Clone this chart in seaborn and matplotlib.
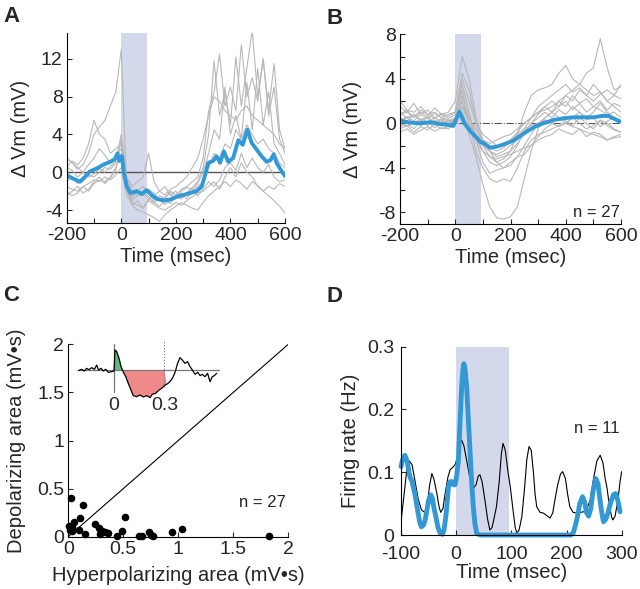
import numpy as np
import pandas as pd
import matplotlib
matplotlib.use('Agg')
import matplotlib.pyplot as plt
import seaborn as sns

sns.set_style('ticks')
plt.rcParams['font.family'] = ['Liberation Sans', 'DejaVu Sans']
plt.rcParams['axes.unicode_minus'] = False

GRAY = '#b8b8b8'
BLUE = '#3399d6'
SHADE = '#d3d8ea'
TICK_FS = 14
LAB_FS = 14.5

# ---------------- Panel A: individual traces (20 ms grid) + mean ----------------
t_a = list(range(-200, 601, 20))
a_traces = [
    [1.5, 1.0, 0.3, 0.8, 2.0, 4.0, 4.8, 5.5, 7.0, 8.5, 13.0, -2.0, -3.5, -3.0, -3.8, -2.8, -3.2, -3.6, -3.0, -3.3, -2.6,
     -2.8, -2.2, -1.6, -1.0, 0.5, 4.0, 11.8, 6.0, 8.5, 5.0, 12.2, 7.0, 11.0, 15.0, 8.0, 12.0, 6.5, 11.5, 4.5, 2.5],
    [0.5, 1.2, 0.8, 1.5, 3.0, 5.5, 4.0, 3.5, 2.0, 2.5, 3.0, -1.0, -2.5, -2.0, -1.5, -2.2, -3.0, -2.5, -2.8, -2.0, -2.4,
     -1.8, -1.5, -1.0, -0.5, 1.5, 6.5, 8.5, 12.5, 7.0, 9.0, 6.5, 13.5, 8.0, 10.0, 7.5, 12.0, 6.0, 9.0, 3.5, 2.0],
    [-1.0, -0.5, -1.2, -0.8, -0.3, -0.5, 0.0, 0.5, 0.3, 1.0, 1.5, -0.5, -2.0, -2.5, -2.2, -2.8, -2.5, -2.0, -2.4, -1.8, -1.5,
     -1.0, -0.5, 0.5, 1.5, 3.5, 6.0, 8.0, 7.5, 6.5, 6.0, 5.5, 6.5, 7.0, 6.0, 5.5, 5.0, 4.5, 4.0, 3.0, 2.5],
    [-1.5, -1.8, -2.0, -1.5, -1.2, -0.8, -1.0, -0.5, -0.8, -0.3, 0.5, -2.5, -3.2, -3.5, -3.8, -3.0, -3.4, -3.8, -4.0, -3.6, -3.2,
     -3.5, -3.0, -2.6, -2.2, -2.0, -1.5, -1.0, -1.8, -0.5, 0.5, -0.5, 1.0, 0.0, -0.5, -1.5, -2.0, -2.5, -3.0, -3.6, -4.3],
    [-2.5, -2.0, -1.5, -2.2, -1.8, -1.0, -0.5, -1.2, -0.6, 0.2, 3.5, -1.5, -3.5, -4.0, -4.2, -4.5, -4.8, -5.2, -4.5, -4.0, -3.6,
     -3.2, -3.5, -3.8, -4.0, -3.2, -2.5, -2.0, -1.5, -1.0, -1.5, -0.8, -1.2, -1.8, -1.0, -1.4, -2.0, -1.5, -1.8, -1.2, -1.5],
    [0.5, 0.2, -0.5, 0.0, 0.8, 1.5, 2.5, 1.8, 1.0, 1.5, 2.5, -1.0, -2.8, -2.0, -2.5, -1.8, -2.2, -3.0, -2.6, -2.2, -2.8,
     -2.0, -1.6, -1.8, -1.2, 0.0, 2.0, 4.5, 3.5, 9.0, 4.0, 6.0, 3.5, 9.5, 4.5, 11.0, 5.0, 8.5, 3.0, 2.0, 0.8],
    [1.5, 1.0, 0.5, 0.0, -0.5, -0.2, 0.4, 0.0, 0.6, 1.2, 4.0, -0.5, -1.5, -1.0, -0.5, 2.0, -1.0, -2.0, -1.5, -2.5, -2.0,
     -2.8, -2.2, -1.8, -2.5, -1.8, -1.0, -1.5, -0.8, 0.5, 1.0, 0.2, 2.0, 0.5, 1.5, 0.5, 0.0, 0.8, -0.5, -1.0, -0.8],
    [-2.0, -2.5, -2.2, -1.5, -2.0, -1.2, -0.8, -1.0, -0.5, 0.5, 2.0, -1.8, -3.0, -2.5, -2.0, -2.6, -3.2, -2.8, -3.4, -3.0, -2.5,
     -2.2, -2.8, -2.0, -1.5, -1.0, 0.5, 2.0, 1.5, 3.0, 2.5, 4.5, 3.5, 5.0, 4.0, 3.0, 3.5, 2.5, 2.0, 1.0, 0.5],
]
t_a_mean = [-200, -182, -151, -133, -115, -90, -66, -41, -23, -14, -7, 2, 10, 20, 34, 56, 75, 93, 111, 130, 154, 178,
            203, 240, 276, 295, 307, 319, 337, 349, 362, 376, 392, 410, 429, 445, 462, 478, 496, 514, 533, 547, 559,
            569, 588, 600]
v_a_mean = [-0.3, -0.6, -1.0, -0.5, 0.1, 0.4, 0.8, 1.1, 1.4, 2.0, 1.2, 1.7, -0.1, -1.5, -2.2, -2.0, -2.3, -1.9, -2.4,
            -2.8, -3.0, -2.9, -2.6, -2.3, -2.0, -1.5, -0.3, 1.0, 1.2, 1.7, 1.0, 2.2, 1.1, 1.5, 3.4, 2.9, 4.5, 3.1, 2.4,
            1.7, 1.1, 1.3, 1.9, 1.0, 0.1, -0.4]

# ---------------- Panel B: individual traces (25 ms grid) + mean ----------------
t_b = list(range(-200, 601, 25))
b_traces = [
    [0.5, 0.2, 0.8, 0.3, 0.6, 0.0, 0.4, 0.2, 0.5, 1.0, -1.0, -3.0, -5.5, -7.5, -8.5, -8.6, -8.4, -7.5, -5.0, -2.5, -0.5,
     0.5, 1.0, 0.5, 0.0, 0.5, 1.0, 0.3, 0.5, -0.3, 0.2, 0.5, 0.3],
    [0.8, 1.2, 0.5, 1.0, 0.6, 1.4, 0.8, 1.0, 2.0, 6.0, 4.0, 0.5, -1.5, -2.5, -3.0, -2.8, -2.5, -1.8, -1.0, 0.0, 0.8,
     1.5, 1.0, 2.0, 1.5, 2.5, 1.8, 2.2, 1.5, 2.0, 1.2, 1.8, 1.5],
    [-0.5, -0.2, -0.8, -0.3, -0.6, -0.1, -0.5, -0.3, 0.5, 2.0, 0.0, -1.0, -2.0, -2.2, -2.5, -2.2, -1.5, -0.8, 0.0, 0.5,
     1.0, 1.2, 1.5, 2.0, 2.5, 3.0, 3.5, 4.5, 5.0, 7.6, 5.0, 3.0, 3.3],
    [0.8, 1.0, 0.5, 1.2, 0.8, 0.4, 0.9, 0.6, 1.0, 4.5, 3.0, 0.0, -2.0, -3.0, -3.5, -3.2, -2.5, -1.0, 1.0, 2.5, 3.0,
     3.2, 3.5, 4.5, 5.2, 4.0, 3.5, 3.0, 2.5, 2.8, 2.0, 1.5, 1.0],
    [0.0, -0.3, 0.2, -0.2, 0.1, -0.4, 0.0, -0.2, 0.5, 3.0, 0.0, -2.5, -4.0, -5.0, -5.3, -5.0, -5.2, -4.0, -2.5, -1.5,
     -1.0, -0.8, -0.5, -0.2, 0.0, -0.3, -0.5, -0.8, -1.0, -1.2, -1.5, -1.3, -1.2],
    [1.5, 1.0, 1.8, 0.8, 1.2, 0.5, 0.8, 0.4, 0.8, 3.5, 1.0, -1.5, -3.5, -4.5, -4.2, -4.0, -3.5, -3.0, -2.8, -2.0, -1.2,
     -0.5, 0.0, 0.5, 0.2, -0.2, 0.5, 0.0, -0.5, 0.2, -0.2, -0.6, -0.8],
    [-0.8, -0.5, -1.0, -0.6, -0.3, -0.7, -0.4, -0.5, 0.0, 2.5, 0.5, -1.0, -2.5, -3.5, -3.8, -3.5, -3.0, -2.0, -0.5, 0.5,
     1.5, 2.0, 2.5, 3.0, 3.5, 2.8, 3.2, 2.5, 2.0, 2.6, 3.0, 2.5, 2.2],
    [0.3, 0.6, 0.2, 0.8, 0.4, 0.9, 0.5, 0.3, 0.2, 1.5, 0.0, -1.0, -2.0, -2.5, -2.8, -2.5, -2.0, -1.5, -0.8, 0.0, 0.5,
     1.0, 0.5, 1.2, 0.8, 1.5, 1.0, 0.5, 1.0, 1.8, 1.0, 0.5, 0.2],
    [-0.3, 0.0, -0.5, 0.2, -0.2, 0.3, 0.0, 0.2, 0.0, 1.0, -0.5, -1.0, -1.5, -1.8, -1.5, -1.2, -1.0, -0.5, 0.0, 0.5, 1.0,
     1.5, 2.0, 1.5, 2.0, 1.2, 1.8, 1.0, 1.5, 1.2, 0.8, 1.0, 0.5],
    [1.0, 0.5, 0.8, 0.2, 0.5, 0.0, 0.3, 0.0, 0.3, 2.0, 0.0, -1.5, -2.5, -3.0, -3.2, -3.0, -2.8, -2.5, -2.2, -2.0, -1.5,
     -1.2, -1.0, -0.5, -0.8, -1.0, -0.5, -1.2, -0.8, -1.0, -1.5, -1.2, -1.0],
    [0.2, 0.5, 0.0, 0.4, 0.1, 0.5, 0.2, 0.0, 0.4, 1.5, 0.5, -0.5, -1.5, -2.5, -3.5, -4.0, -3.8, -3.0, -2.0, -1.0, 0.0,
     0.5, 1.0, 1.5, 2.5, 2.0, 3.0, 2.5, 3.5, 2.8, 2.0, 2.5, 3.5],
    [2.0, 1.2, 1.0, 1.5, 0.8, 1.0, 0.5, 0.8, 1.0, 4.0, 2.0, 0.0, -1.0, -1.5, -2.0, -1.8, -1.5, -1.0, -0.5, -0.2, 0.0,
     0.3, 0.0, -0.3, 0.0, 0.5, 0.0, -0.5, -0.2, 0.3, 0.0, -0.5, -0.8],
]
t_b_mean = [-200, -164, -128, -91, -55, -25, -7, 5, 15, 23, 35, 53, 71, 90, 108, 126, 150, 180, 210, 234, 258, 289,
            319, 355, 391, 427, 463, 500, 530, 554, 572, 596]
v_b_mean = [0.24, 0.06, 0.0, 0.1, -0.06, -0.15, -0.24, 0.45, 1.05, 0.6, -0.06, -0.66, -1.14, -1.65, -1.86, -2.19,
            -2.1, -1.86, -1.56, -1.14, -0.75, -0.3, 0.0, 0.3, 0.45, 0.54, 0.54, 0.54, 0.66, 0.66, 0.45, 0.15]

# ---------------- Panel C: areas ----------------
hyp_area = [0.022, 0.13, 0.106, 0.052, 0.009, 0.015, 0.035, 0.097, 0.152, 0.243, 0.282, 0.303, 0.334, 0.364, 0.288,
            0.445, 0.491, 0.515, 0.645, 0.667, 0.736, 0.749, 0.767, 0.94, 1.03, 1.827, 0.03]
dep_area = [0.405, 0.33, 0.198, 0.156, 0.114, 0.07, 0.10, 0.07, 0.025, 0.129, 0.094, 0.063, 0.052, 0.042, 0.028,
            0.007, 0.059, 0.2, 0.007, 0.007, 0.052, 0.018, 0.007, 0.052, 0.08, 0.007, 0.06]

# inset example trace (s, arbitrary mV)
t_in = [-0.213, -0.193, -0.177, -0.163, -0.149, -0.133, -0.117, -0.103, -0.093, -0.077, -0.064, -0.050, -0.034,
        -0.014, 0.0, 0.006, 0.016, 0.030, 0.042, 0.056, 0.070, 0.085, 0.101, 0.115, 0.135, 0.155, 0.175, 0.195,
        0.215, 0.228, 0.248, 0.268, 0.284, 0.300, 0.314, 0.334, 0.348, 0.364, 0.379, 0.393, 0.407, 0.423, 0.439,
        0.453, 0.467, 0.483, 0.499, 0.513, 0.526, 0.542, 0.558, 0.572, 0.586, 0.598, 0.612]
v_in = [-0.1, 0.1, -0.15, 0.25, 0.05, 0.35, 0.1, 0.75, 0.0, 0.25, -0.15, 0.1, -0.35, -0.25, -0.15, 3.0, 2.75, 1.75,
        0.5, -0.35, -1.0, -2.0, -3.0, -3.85, -4.0, -3.75, -4.05, -3.85, -4.15, -3.65, -3.5, -3.0, -2.75, -2.35,
        -2.15, -1.75, -1.25, -0.35, 1.0, 1.85, 1.5, 1.0, 1.25, 0.5, 0.0, -0.65, -0.35, -0.85, -0.65, -1.0, -0.5,
        -1.75, -1.0, -0.85, -0.5]

# ---------------- Panel D: firing rate ----------------
t_d_black = [-100, -95, -90, -85, -80, -75, -69, -63, -57, -53, -48, -44, -40, -35, -31, -28, -24, -20, -15, -11,
             -6, -2, 3, 7, 10, 14, 19, 25, 31, 36, 40, 43, 47, 52, 57, 61, 65, 69, 73, 78, 82, 85, 89, 94, 98, 103,
             107, 110, 114, 119, 124, 128, 132, 136, 140, 143, 146, 152, 158, 164, 170, 175, 179, 184, 189, 193, 198,
             202, 206, 212, 218, 225, 231, 237, 243, 249, 255, 261, 266, 270, 273, 278, 282, 284, 288, 291, 294, 297,
             300]
v_d_black = [0.021, 0.06, 0.10, 0.118, 0.112, 0.088, 0.058, 0.040, 0.036, 0.045, 0.080, 0.098, 0.088, 0.066, 0.045,
             0.036, 0.042, 0.066, 0.092, 0.104, 0.108, 0.112, 0.125, 0.145, 0.151, 0.142, 0.119, 0.090, 0.074, 0.080,
             0.094, 0.096, 0.085, 0.056, 0.025, 0.008, 0.012, 0.028, 0.045, 0.085, 0.130, 0.146, 0.135, 0.100, 0.077,
             0.040, 0.012, 0.003, 0.008, 0.029, 0.075, 0.120, 0.141, 0.135, 0.100, 0.065, 0.045, 0.036, 0.035, 0.031,
             0.027, 0.035, 0.056, 0.080, 0.097, 0.101, 0.090, 0.065, 0.045, 0.036, 0.035, 0.036, 0.037, 0.042, 0.056,
             0.090, 0.118, 0.127, 0.115, 0.090, 0.077, 0.045, 0.028, 0.024, 0.030, 0.045, 0.061, 0.085, 0.101]
t_d_blue = [-100, -97, -93, -89, -84, -80, -75, -70, -66, -63, -59, -56, -53, -50, -46, -43, -40, -37, -33, -29, -25,
            -22, -18, -14, -11, -8, -5, -2, 1, 4, 7, 10, 12, 14, 16, 19, 22, 25, 28, 31, 34, 37, 43, 100, 150, 208,
            212, 216, 220, 224, 229, 233, 236, 240, 244, 248, 253, 257, 260, 264, 267, 271, 275, 280, 285, 289, 293,
            297]
v_d_blue = [0.109, 0.120, 0.127, 0.118, 0.093, 0.085, 0.066, 0.040, 0.020, 0.013, 0.016, 0.025, 0.040, 0.055, 0.064,
            0.058, 0.042, 0.030, 0.012, 0.003, 0.001, 0.008, 0.035, 0.077, 0.085, 0.085, 0.080, 0.080, 0.095, 0.119,
            0.180, 0.236, 0.262, 0.273, 0.265, 0.236, 0.185, 0.135, 0.085, 0.045, 0.018, 0.003, 0.0, 0.0, 0.0, 0.0,
            0.003, 0.015, 0.030, 0.050, 0.061, 0.052, 0.036, 0.030, 0.042, 0.070, 0.090, 0.082, 0.060, 0.035, 0.021,
            0.025, 0.035, 0.052, 0.064, 0.066, 0.055, 0.037]


def long_df(t, traces):
    rows = []
    for k, tr in enumerate(traces):
        rows.append(pd.DataFrame({'t': t, 'v': tr, 'trace': k}))
    return pd.concat(rows, ignore_index=True)


def style(ax):
    sns.despine(ax=ax)
    for s in ['left', 'bottom']:
        ax.spines[s].set_linewidth(0.8)
        ax.spines[s].set_color('black')
    ax.tick_params(direction='in', length=3.5, width=0.8, labelsize=TICK_FS, pad=3)
    ax.tick_params(which='minor', direction='in', length=3.5, width=0.8)


W, H = 640, 589


def rect(l, r, t, b):
    return [l / W, 1 - b / H, (r - l) / W, (b - t) / H]


fig = plt.figure(figsize=(6.4, 5.89), dpi=100)

# Panel A
axA = fig.add_axes(rect(66.7, 285, 33.3, 223.3))
axA.axvspan(0, 95, color=SHADE, lw=0, zorder=0)
axA.plot([-200, 600], [0, 0], color='#555555', lw=1, zorder=1)
sns.lineplot(data=long_df(t_a, a_traces), x='t', y='v', units='trace', estimator=None,
             color=GRAY, lw=0.8, ax=axA, legend=False)
sns.lineplot(x=t_a_mean, y=v_a_mean, color=BLUE, lw=2.8, ax=axA)
axA.set_xlim(-200, 600)
axA.set_ylim(-5.4, 14.7)
axA.set_xticks([-200, 0, 200, 400, 600])
axA.set_xticks([-100, 100, 300, 500], minor=True)
axA.set_yticks([-4, 0, 4, 8, 12])
axA.set_xlabel('Time (msec)', fontsize=LAB_FS, labelpad=2)
axA.set_ylabel('Δ Vm (mV)', fontsize=LAB_FS, labelpad=8)
style(axA)

# Panel B
axB = fig.add_axes(rect(400, 621, 34.3, 224))
axB.axvspan(0, 95, color=SHADE, lw=0, zorder=0)
sns.lineplot(data=long_df(t_b, b_traces), x='t', y='v', units='trace', estimator=None,
             color=GRAY, lw=0.8, ax=axB, legend=False)
axB.plot([-200, 600], [0, 0], color='#555555', lw=0.8, ls='-.', zorder=1.5)
sns.lineplot(x=t_b_mean, y=v_b_mean, color=BLUE, lw=2.8, ax=axB)
axB.set_xlim(-200, 600)
axB.set_ylim(-9.05, 8)
axB.set_xticks([-200, 0, 200, 400, 600])
axB.set_xticks([-100, 100, 300, 500], minor=True)
axB.set_yticks([-8, -4, 0, 4, 8])
axB.set_yticks([-6, -2, 2, 6], minor=True)
axB.set_xlabel('Time (msec)', fontsize=LAB_FS, labelpad=2)
axB.set_ylabel('Δ Vm (mV)', fontsize=LAB_FS, labelpad=12)
axB.text(0.995, 0.063, 'n = 27', transform=axB.transAxes, ha='right', va='center', fontsize=12)
style(axB)

# Panel C
axC = fig.add_axes(rect(68.3, 288.3, 344.3, 536.7))
axC.plot([0, 2], [0, 2], color='black', lw=0.8)
sns.scatterplot(x=hyp_area, y=dep_area, color='black', s=30, linewidth=0, ax=axC, clip_on=False, zorder=3)
axC.set_xlim(0, 2)
axC.set_ylim(0, 2)
axC.set_xticks([0, 0.5, 1, 1.5, 2])
axC.set_xticklabels(['0', '0.5', '1', '1.5', '2'])
axC.set_yticks([0, 0.5, 1, 1.5, 2])
axC.set_yticklabels(['0', '0.5', '1', '1.5', '2'])
axC.set_xlabel('Hyperpolarizing area (mV•s)', fontsize=LAB_FS, labelpad=6)
axC.set_ylabel('Depolarizing area (mV•s)', fontsize=LAB_FS, labelpad=8)
axC.text(0.99, 0.18, 'n = 27', transform=axC.transAxes, ha='right', va='center', fontsize=12)
style(axC)

# inset
axI = fig.add_axes(rect(77.1, 219.7, 339.3, 400))
t_arr = np.array(t_in)
v_arr = np.array(v_in)
win = (t_arr >= 0) & (t_arr <= 0.3)
axI.fill_between(t_arr, v_arr, 0, where=win & (v_arr > 0), interpolate=True, color='#5dbb7d', lw=0)
axI.fill_between(t_arr, v_arr, 0, where=win & (v_arr < 0), interpolate=True, color='#f08a8a', lw=0)
axI.plot([t_in[0], 0.625], [0, 0], color='#777777', lw=0.9)
axI.plot([0, 0], [-3.25, 3.9], color='#777777', lw=0.9)
axI.plot([0.3, 0.3], [-2.6, 4.5], color='#777777', lw=0.8, ls=':')
sns.lineplot(x=t_in, y=v_in, color='black', lw=0.9, ax=axI)
axI.set_xlim(-0.22, 0.63)
axI.set_ylim(-4.5, 4.6)
axI.axis('off')
axI.text(0, -4.0, '0', ha='center', va='top', fontsize=TICK_FS)
axI.text(0.3, -4.0, '0.3', ha='center', va='top', fontsize=TICK_FS)

# Panel D
axD = fig.add_axes(rect(401, 621.7, 346.7, 535))
axD.axvspan(0, 95, color=SHADE, lw=0, zorder=0)
sns.lineplot(x=t_d_black, y=v_d_black, color='black', lw=0.8, ax=axD)
sns.lineplot(x=t_d_blue, y=v_d_blue, color=BLUE, lw=3.5, ax=axD, clip_on=False)
axD.set_xlim(-100, 300)
axD.set_ylim(0, 0.3)
axD.set_xticks([-100, 0, 100, 200, 300])
axD.set_yticks([0, 0.1, 0.2, 0.3])
axD.set_yticklabels(['0', '0.1', '0.2', '0.3'])
axD.set_xlabel('Time (msec)', fontsize=LAB_FS, labelpad=0)
axD.set_ylabel('Firing rate (Hz)', fontsize=LAB_FS, labelpad=5)
axD.text(0.992, 0.567, 'n = 11', transform=axD.transAxes, ha='right', va='center', fontsize=12)
style(axD)
axD.tick_params(axis='x', pad=8)
axD.tick_params(axis='y', pad=5)

for lab, x, y in [('A', 3, 6), ('B', 327, 8), ('C', 3, 285), ('D', 327, 286)]:
    fig.text(x / W, 1 - y / H, lab, fontsize=16, fontweight='bold', ha='left', va='top')

fig.savefig('out.png', dpi=100)
